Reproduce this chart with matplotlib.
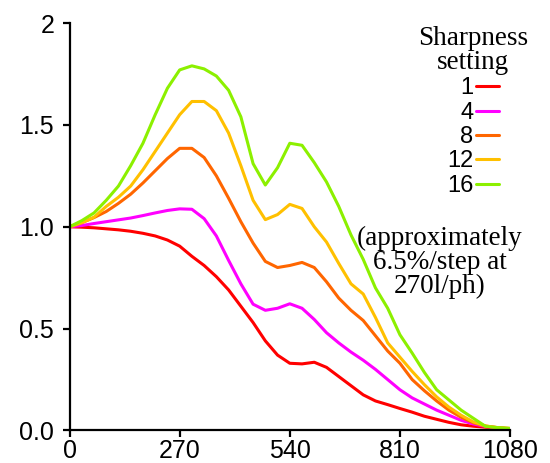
import matplotlib
matplotlib.use("Agg")
import matplotlib.pyplot as plt

# spatial frequency (line widths per picture height)
freq = [0, 30, 60, 90, 120, 150, 180, 210, 240, 270, 300, 330, 360, 390,
        420, 450, 480, 510, 540, 570, 600, 630, 660, 690, 720, 750, 780,
        810, 840, 870, 900, 930, 960, 990, 1020, 1050, 1080]

# MTF for each sharpness setting
mtf_1 = [1.0, 0.998, 0.995, 0.99, 0.985, 0.978, 0.968, 0.955, 0.935, 0.905,
         0.855, 0.81, 0.755, 0.69, 0.61, 0.53, 0.44, 0.37, 0.33, 0.327,
         0.335, 0.31, 0.265, 0.22, 0.175, 0.145, 0.127, 0.108, 0.09, 0.07,
         0.055, 0.04, 0.028, 0.021, 0.016, 0.012, 0.008]
mtf_4 = [1.0, 1.006, 1.016, 1.025, 1.034, 1.043, 1.055, 1.068, 1.08, 1.088,
         1.086, 1.04, 0.955, 0.835, 0.72, 0.62, 0.59, 0.6, 0.622, 0.6,
         0.545, 0.48, 0.43, 0.385, 0.345, 0.3, 0.25, 0.2, 0.16, 0.13,
         0.1, 0.075, 0.05, 0.032, 0.02, 0.013, 0.008]
mtf_8 = [1.0, 1.02, 1.045, 1.075, 1.115, 1.16, 1.215, 1.275, 1.335, 1.385,
         1.385, 1.34, 1.25, 1.14, 1.025, 0.92, 0.83, 0.8, 0.81, 0.825,
         0.8, 0.73, 0.65, 0.59, 0.54, 0.465, 0.39, 0.33, 0.25, 0.195,
         0.145, 0.1, 0.065, 0.038, 0.022, 0.014, 0.01]
mtf_12 = [1.0, 1.02, 1.047, 1.1, 1.145, 1.2, 1.28, 1.37, 1.46, 1.55,
          1.615, 1.615, 1.57, 1.46, 1.3, 1.13, 1.035, 1.06, 1.11, 1.09,
          1.0, 0.925, 0.82, 0.72, 0.67, 0.555, 0.43, 0.36, 0.29, 0.225,
          0.165, 0.115, 0.075, 0.042, 0.022, 0.014, 0.01]
mtf_16 = [1.0, 1.03, 1.068, 1.13, 1.2, 1.3, 1.41, 1.55, 1.68, 1.77,
          1.79, 1.775, 1.74, 1.67, 1.54, 1.31, 1.205, 1.29, 1.41, 1.4,
          1.315, 1.22, 1.1, 0.96, 0.84, 0.7, 0.6, 0.47, 0.38, 0.285,
          0.2, 0.15, 0.1, 0.06, 0.02, 0.014, 0.01]

settings = ["1", "4", "8", "12", "16"]
colors = ["#ff0000", "#ff00ff", "#ff6600", "#ffc000", "#8cf000"]

sans = "Liberation Sans"
serif = "Liberation Serif"

fig = plt.figure(figsize=(5.5, 4.63), dpi=100)
ax = fig.add_axes([0.1264, 0.0702, 0.801, 0.880])

for vals, lab, col in zip([mtf_1, mtf_4, mtf_8, mtf_12, mtf_16], settings, colors):
    ax.plot(freq, vals, color=col, lw=2.2, label=lab,
            solid_capstyle="round", solid_joinstyle="round")

ax.set_xlim(0, 1080)
ax.set_ylim(0, 2)
ax.set_xticks([0, 270, 540, 810, 1080])
ax.set_yticks([0, 0.5, 1.0, 1.5, 2.0])
ax.set_yticklabels(["0.0", "0.5", "1.0", "1.5", "2"])
for s in ["top", "right"]:
    ax.spines[s].set_visible(False)
for s in ["left", "bottom"]:
    ax.spines[s].set_linewidth(1.6)
ax.tick_params(direction="out", length=5, width=1.6, labelsize=18)
ax.tick_params(axis="y", pad=6)
ax.tick_params(axis="x", pad=1)
for t in ax.get_xticklabels() + ax.get_yticklabels():
    t.set_fontfamily(sans)

leg = ax.legend(loc="upper right", bbox_to_anchor=(528 / 550, 1 - 26 / 463),
                bbox_transform=fig.transFigure, frameon=False,
                markerfirst=False, handlelength=1.0, handletextpad=0.1,
                labelspacing=0.1, borderpad=0, borderaxespad=0,
                prop={"family": sans, "size": 17},
                title="Sharpness\nsetting",
                title_fontproperties={"family": serif, "size": 19.5})
leg.get_title().set_multialignment("center")
leg.get_title().set_linespacing(0.95)

ax.text(0.841, 0.412, "(approximately\n6.5%/step at\n270l/ph)",
        transform=ax.transAxes, ha="center", va="center",
        family=serif, size=19.5, linespacing=0.95)

fig.savefig("out.png", dpi=100)
